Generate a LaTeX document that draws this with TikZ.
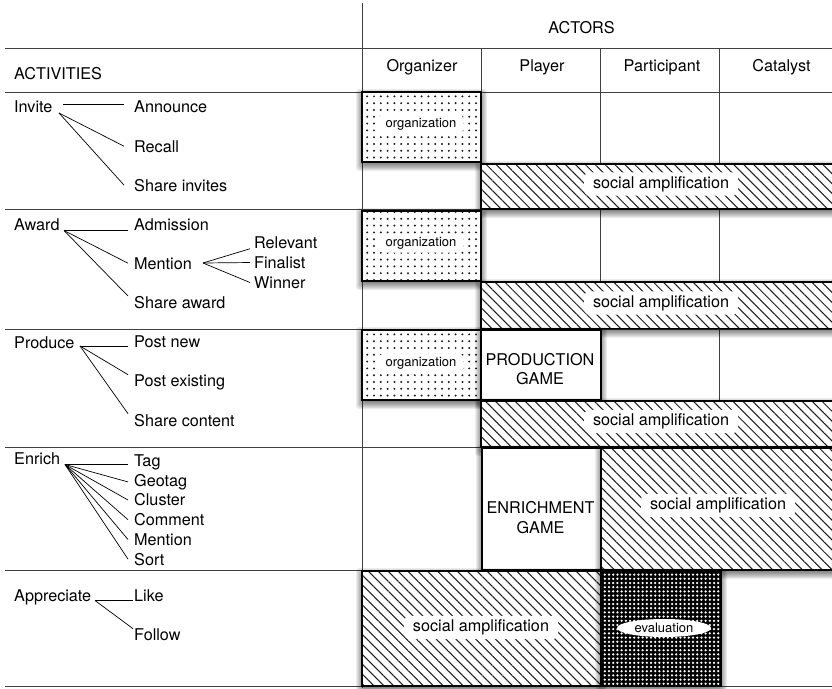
\documentclass[tikz,border=0pt]{standalone}
\usepackage{fontspec}
\setmainfont{TeX Gyre Heros}
\usetikzlibrary{patterns.meta,shapes.geometric}

\definecolor{rulegray}{HTML}{404040}
\definecolor{hatchgray}{HTML}{1E1E1E}
\definecolor{dotgray}{HTML}{1A1A1A}

\tikzset{
  bigtext/.style={font=\fontsize{16.2}{19.5}\selectfont},
  smalltext/.style={font=\fontsize{13}{15}\selectfont},
  gridrule/.style={draw=rulegray, line width=0.8pt},
  shadowlayer/.style={fill=black, opacity=0.07, rounded corners=3pt},
  orgbox/.style={preaction={fill=white},
      pattern={Dots[distance=6.8pt, radius=1.1pt]}, pattern color=dotgray,
      draw=black, line width=1.4pt},
  ampbox/.style={preaction={fill=white},
      pattern={Lines[angle=-45, distance=7pt, line width=1.05pt]},
      pattern color=hatchgray, draw=black, line width=1.4pt},
  gamebox/.style={fill=white, draw=black, line width=1.4pt},
  evalbox/.style={preaction={fill=black},
      pattern={Dots[distance=4.2pt, radius=1.25pt]}, pattern color=white,
      draw=black, line width=1.4pt},
  orglabel/.style={smalltext, fill=white, rounded corners=4pt,
      inner xsep=7pt, inner ysep=3pt},
  amplabel/.style={bigtext, fill=white, rounded corners=6pt,
      inner xsep=9pt, inner ysep=4pt},
  gamelabel/.style={bigtext, align=center, inner sep=0pt},
  evallabel/.style={smalltext, ellipse, fill=white, minimum width=94pt,
      minimum height=18pt, inner sep=0pt},
  headtext/.style={bigtext, anchor=base, inner sep=0pt},
  acttext/.style={bigtext, anchor=base west, inner sep=0pt},
  leaf/.style={bigtext, anchor=base west, inner ysep=0pt, inner xsep=#1},
  leaf/.default=6pt,
  branch/.style={draw=black, line width=0.7pt},
}

% soft drop shadow under a box given by its corners x1,y1,x2,y2
\newcommand\softshadow[4]{%
  \foreach \sh in {-2,-1,...,6}
    \fill[shadowlayer] (#1-\sh,#2+3-\sh) rectangle (#3+\sh,#4+3+\sh);%
}

\begin{document}
\begin{tikzpicture}[x=1pt, y=-1pt]
\useasboundingbox (0,0) rectangle (832,688);
\clip (0,0) rectangle (832,688);
\fill[white] (0,0) rectangle (832,688);

% table rules
\draw[gridrule] (362,3) -- (362,688);
\foreach \yy in {48,92,209,329,447,570,686}
  \draw[gridrule] (5,\yy) -- (840,\yy);
\foreach \xx in {481,600,719}
  \draw[gridrule] (\xx,48) -- (\xx,686);

% headers
\node[headtext] (actors) at (581.5,33.8) {ACTORS};
\node[acttext] (activities) at (14,79.3) {ACTIVITIES};
\node[headtext] (organizer) at (422,71.7) {Organizer};
\node[headtext] (player) at (542,71.7) {Player};
\node[headtext] (participant) at (662,71.7) {Participant};
\node[headtext] (catalyst) at (781.5,71.7) {Catalyst};

% row: invite
\softshadow{362}{92}{481}{162}
\path[orgbox] (362,92) rectangle (481,162);
\node[orglabel] (org1) at (421,124) {organization};
\softshadow{481}{164}{845}{209}
\path[ampbox] (481,164) rectangle (845,209);
\node[amplabel] (amp1) at (661,184) {social amplification};

% row: award
\softshadow{362}{211}{481}{281}
\path[orgbox] (362,211) rectangle (481,281);
\node[orglabel] (org2) at (421,243.5) {organization};
\softshadow{481}{282}{845}{328.5}
\path[ampbox] (481,282) rectangle (845,328.5);
\node[amplabel] (amp2) at (661,303) {social amplification};

% row: produce
\softshadow{362}{330}{481}{400}
\path[orgbox] (362,330) rectangle (481,400);
\node[orglabel] (org3) at (421,363) {organization};
\softshadow{481}{330}{601}{400}
\path[gamebox] (481,330) rectangle (601,400);
\node[gamelabel] (prodgame) at (540,369) {PRODUCTION\\GAME};
\softshadow{481}{401}{845}{447}
\path[ampbox] (481,401) rectangle (845,447);
\node[amplabel] (amp3) at (661,421.5) {social amplification};

% row: enrich
\softshadow{482}{448}{601}{570}
\path[gamebox] (482,448) rectangle (601,570);
\node[gamelabel] (enrgame) at (540.5,517.5) {ENRICHMENT\\GAME};
\softshadow{601}{448}{845}{570}
\path[ampbox] (601,448) rectangle (845,570);
\node[amplabel] (amp4) at (718,505.5) {social amplification};

% row: appreciate
\softshadow{362}{571}{601}{686}
\path[ampbox] (362,571) rectangle (601,686);
\node[amplabel] (amp5) at (481,627.5) {social amplification};
\softshadow{601}{571}{721}{686}
\path[evalbox] (601,571) rectangle (721,686);
\node[evallabel] (evaluation) at (664,628) {evaluation};

% activity tree: invite
\node[acttext] (invite) at (14,112) {Invite};
\node[leaf=10pt] (announce) at (124,112) {Announce};
\node[leaf=10pt] (recall) at (124,152) {Recall};
\node[leaf=10pt] (shareinv) at (124,191) {Share invites};
\coordinate (invH) at (63,104);
\coordinate (invHub) at (59,113);
\draw[branch] (invH) -- (invH -| announce.west);
\draw[branch] (invHub) -- (recall.west);
\draw[branch] (invHub) -- (shareinv.west);

% activity tree: award
\node[acttext] (award) at (14,230) {Award};
\node[leaf] (admission) at (128,230) {Admission};
\node[leaf] (mention) at (128,269) {Mention};
\node[leaf] (shareaward) at (128,308.3) {Share award};
\node[leaf=4pt] (relevant) at (250,248.3) {Relevant};
\node[leaf=4pt] (finalist) at (250,268.3) {Finalist};
\node[leaf=4pt] (winner) at (250,288.3) {Winner};
\coordinate (awHub) at (64,230.5);
\coordinate (mnHub) at (203,263);
\draw[branch] (awHub) -- (awHub -| admission.west);
\draw[branch] (awHub) -- (mention.west);
\draw[branch] (awHub) -- (shareaward.north west);
\draw[branch] (mnHub) -- (relevant.south west);
\draw[branch] (mnHub) -- (finalist.west);
\draw[branch] (mnHub) -- (winner.west);

% activity tree: produce
\node[acttext] (produce) at (14,348.3) {Produce};
\node[leaf] (postnew) at (128,347.7) {Post new};
\node[leaf] (postexist) at (128,386.7) {Post existing};
\node[leaf] (sharecont) at (128,426) {Share content};
\coordinate (prHub) at (80,346);
\draw[branch] (prHub) -- (prHub -| postnew.west);
\draw[branch] (prHub) -- (postexist.north west);
\draw[branch] (prHub) -- (sharecont.north west);

% activity tree: enrich
\node[acttext] (enrich) at (14,464) {Enrich};
\node[leaf] (tag) at (128,466.5) {Tag};
\node[leaf] (geotag) at (128,486.2) {Geotag};
\node[leaf] (cluster) at (128,505.9) {Cluster};
\node[leaf] (comment) at (128,525.6) {Comment};
\node[leaf] (mentionb) at (128,545.3) {Mention};
\node[leaf] (sort) at (128,565) {Sort};
\coordinate (enHub) at (65,464.5);
\draw[branch] (enHub) -- (enHub -| tag.west);
\foreach \leafname in {geotag,cluster,comment,mentionb,sort}
  \draw[branch] (enHub) -- (\leafname.west);

% activity tree: appreciate
\node[acttext] (appreciate) at (14,601.7) {Appreciate};
\node[leaf=1pt] (like) at (133,601.7) {Like};
\node[leaf=1pt] (follow) at (133,640.7) {Follow};
\coordinate (apHub) at (95,600.5);
\draw[branch] (apHub) -- (apHub -| like.west);
\draw[branch] (apHub) -- (follow.north west);
\end{tikzpicture}
\end{document}
